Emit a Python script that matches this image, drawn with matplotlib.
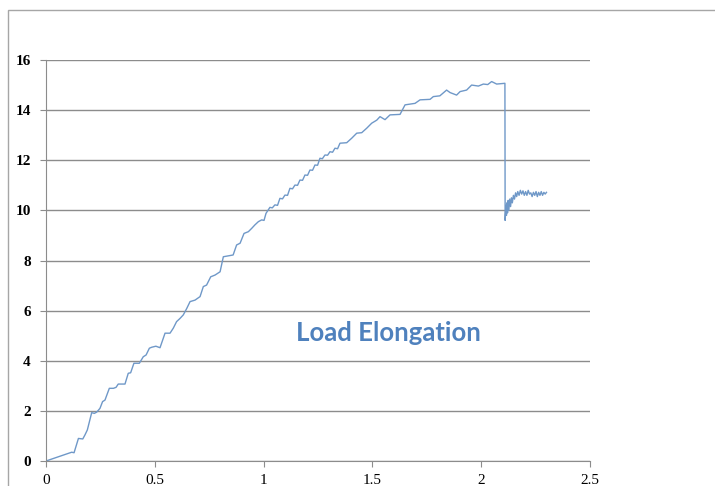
import matplotlib.pyplot as plt
from matplotlib.patches import Rectangle

# elongation / load pairs
elongation = [
    0, 0.118, 0.129, 0.149, 0.169, 0.179, 0.19, 0.21, 0.222, 0.233,
    0.248, 0.26, 0.271, 0.291, 0.31, 0.322, 0.332, 0.363, 0.378, 0.389,
    0.404, 0.429, 0.447, 0.46, 0.475, 0.486, 0.505, 0.524, 0.547, 0.57,
    0.585, 0.6, 0.616, 0.631, 0.647, 0.662, 0.685, 0.708, 0.723, 0.738,
    0.757, 0.777, 0.8, 0.815, 0.842, 0.86, 0.876, 0.892, 0.91, 0.93,
    0.945, 0.96, 0.976, 0.991, 1.002, 1.011, 1.029, 1.04, 1.052, 1.064, 1.075,
    1.087, 1.098, 1.11, 1.121, 1.133, 1.144, 1.156, 1.167, 1.179, 1.19,
    1.202, 1.213, 1.225, 1.236, 1.248, 1.259, 1.27, 1.282, 1.294, 1.305,
    1.317, 1.328, 1.34, 1.351, 1.382, 1.405, 1.428, 1.451, 1.474, 1.497,
    1.52, 1.535, 1.558, 1.581, 1.627, 1.65, 1.696, 1.719, 1.765, 1.78,
    1.81, 1.841, 1.857, 1.887, 1.903, 1.933, 1.956, 1.987, 2.01, 2.03,
    2.048, 2.071, 2.109, 2.110,
    2.114, 2.116, 2.118, 2.121, 2.124, 2.127, 2.131, 2.135, 2.139, 2.143,
    2.148, 2.153, 2.158, 2.163, 2.168, 2.174, 2.18, 2.186, 2.192, 2.198,
    2.204, 2.21, 2.216, 2.222, 2.228, 2.234, 2.24, 2.246, 2.252, 2.258,
    2.264, 2.27, 2.276, 2.282, 2.288, 2.294, 2.30,
]
load = [
    0, 0.35, 0.33, 0.9, 0.88, 1.04, 1.24, 1.93, 1.9, 1.95,
    2.1, 2.37, 2.43, 2.9, 2.9, 2.94, 3.07, 3.07, 3.5, 3.52,
    3.9, 3.9, 4.16, 4.23, 4.5, 4.54, 4.58, 4.52, 5.1, 5.1,
    5.3, 5.56, 5.69, 5.83, 6.09, 6.36, 6.42, 6.56, 6.96, 7.02,
    7.35, 7.42, 7.55, 8.15, 8.19, 8.22, 8.62, 8.69, 9.08, 9.15,
    9.28, 9.42, 9.55, 9.62, 9.6, 9.88, 10.12, 10.1, 10.22, 10.2, 10.48,
    10.46, 10.61, 10.6, 10.88, 10.86, 11.01, 11.0, 11.21, 11.2, 11.41,
    11.4, 11.61, 11.6, 11.81, 11.8, 12.08, 12.06, 12.21, 12.2, 12.34,
    12.32, 12.48, 12.46, 12.68, 12.7, 12.88, 13.08, 13.1, 13.28, 13.48,
    13.6, 13.74, 13.62, 13.81, 13.83, 14.21, 14.27, 14.41, 14.43, 14.54,
    14.57, 14.8, 14.7, 14.6, 14.74, 14.8, 15.0, 14.96, 15.04, 15.02,
    15.14, 15.04, 15.07, 9.6,
    10.2, 9.8, 10.3, 9.9, 10.4, 10.0, 10.45, 10.15, 10.5, 10.3,
    10.6, 10.45, 10.7, 10.55, 10.75, 10.6, 10.8, 10.65, 10.78, 10.6,
    10.75, 10.6, 10.8, 10.65, 10.7, 10.55, 10.72, 10.6, 10.75, 10.55,
    10.72, 10.6, 10.75, 10.6, 10.72, 10.65, 10.72,
]
x_ticks = [0, 0.5, 1, 1.5, 2, 2.5]
y_ticks = [0, 2, 4, 6, 8, 10, 12, 14, 16]

fig = plt.figure(figsize=(7.15, 4.86), dpi=100)
fig.patches.append(Rectangle((8 / 715, -0.1), 1.2, 0.1 + 476 / 486,
                             transform=fig.transFigure, fill=False,
                             edgecolor='#a6a6a6', linewidth=1))
ax = fig.add_axes([46 / 715, 25 / 486, 544 / 715, 401 / 486])

ax.plot(elongation, load, color='#6f98c8', linewidth=1)

ax.set_xlim(0, 2.5)
ax.set_ylim(0, 16)
ax.set_xticks(x_ticks)
ax.set_xticklabels([f'{t:g}' for t in x_ticks], family='Liberation Serif', fontsize=11)
ax.set_yticks(y_ticks)
ax.set_yticklabels([str(t) for t in y_ticks], family='Liberation Serif',
                   fontsize=11, fontweight='bold')
ax.grid(axis='y', color='#8c8c8c', linewidth=1)
ax.set_axisbelow(True)
for s in ['top', 'right']:
    ax.spines[s].set_visible(False)
for s in ['left', 'bottom']:
    ax.spines[s].set_color('#8c8c8c')
ax.tick_params(axis='both', direction='out', length=4, color='#8c8c8c', colors='black')
ax.tick_params(axis='x', pad=5, color='#8c8c8c')
ax.tick_params(axis='y', pad=7, color='#8c8c8c')

ax.text(1.572, 5.1, 'Load Elongation', color='#4f81bd', fontsize=18.5,
        fontweight='bold', family='Lato', ha='center', va='center')

fig.savefig('out.png', dpi=100)
